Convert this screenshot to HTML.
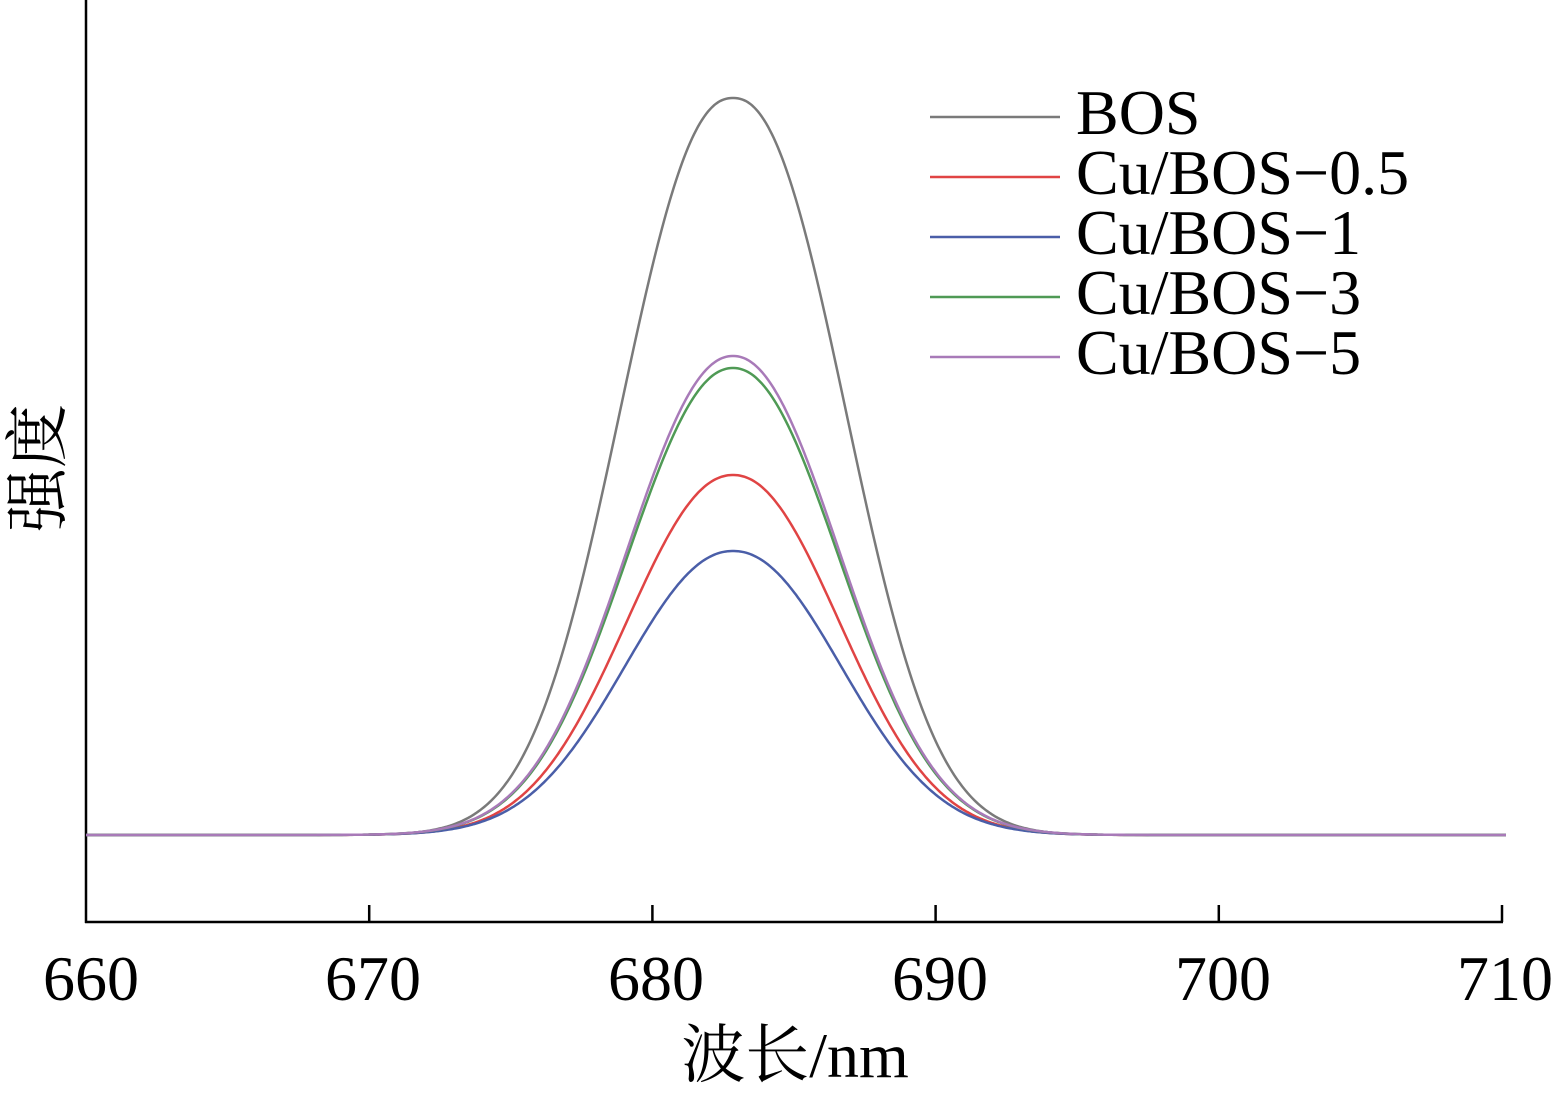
<!DOCTYPE html>
<html><head><meta charset="utf-8"><style>
html,body{margin:0;padding:0;background:#fff;}
svg{display:block;}
text{font-family:"Liberation Serif","Noto Serif CJK SC",serif;fill:#000;}
</style></head><body>
<svg id="s" width="1558" height="1099" viewBox="0 0 1558 1099" xmlns="http://www.w3.org/2000/svg">
<g stroke="#000" stroke-width="2.5" fill="none">
<line x1="86" y1="0" x2="86" y2="923"/>
<line x1="85" y1="922" x2="1503" y2="922"/>
<line x1="369.2" y1="922" x2="369.2" y2="905"/>
<line x1="652.4" y1="922" x2="652.4" y2="905"/>
<line x1="935.6" y1="922" x2="935.6" y2="905"/>
<line x1="1218.8" y1="922" x2="1218.8" y2="905"/>
<line x1="1502" y1="922" x2="1502" y2="905"/>
</g>
<g font-size="64" text-anchor="middle">
<text x="91" y="1000">660</text>
<text x="373" y="1000">670</text>
<text x="656" y="1000">680</text>
<text x="940" y="1000">690</text>
<text x="1223" y="1000">700</text>
<text x="1505" y="1000">710</text>
</g>
<text x="795" y="1077" font-size="64" text-anchor="middle">波长/nm</text>
<text transform="translate(60,468) rotate(-90)" font-size="64" text-anchor="middle">强度</text>
<g id="curves" fill="none" stroke-width="2.5"></g>
<g stroke-width="2.5">
<line x1="930" y1="117" x2="1060" y2="117" stroke="#7a7a7a"/>
<line x1="930" y1="177" x2="1060" y2="177" stroke="#e04444"/>
<line x1="930" y1="237" x2="1060" y2="237" stroke="#4a5ea8"/>
<line x1="930" y1="297" x2="1060" y2="297" stroke="#4f9a55"/>
<line x1="930" y1="357" x2="1060" y2="357" stroke="#a87ab8"/>
</g>
<g font-size="64">
<text x="1076" y="134">BOS</text>
<text x="1076" y="194">Cu/BOS−0.5</text>
<text x="1076" y="254">Cu/BOS−1</text>
<text x="1076" y="314">Cu/BOS−3</text>
<text x="1076" y="374">Cu/BOS−5</text>
</g>
</svg>
<script>
var g=document.getElementById('curves');
var base=835, c=733;
var series=[
 ['#7a7a7a',98,108,2.25],
 ['#e04444',475,104,2.1],
 ['#4a5ea8',551,106,2.1],
 ['#4f9a55',368,104,2.1],
 ['#a87ab8',356,104,2.1]
];
series.forEach(function(s){
 var h=base-s[1],d='';
 for(var x=86;x<=1507;x+=2){
  var u=Math.abs(x-c)/s[2];
  var y=base-h*Math.exp(-0.5*Math.pow(u,s[3]));
  d+=(x==86?'M':'L')+x+' '+y.toFixed(1);
 }
 var p=document.createElementNS('http://www.w3.org/2000/svg','path');
 p.setAttribute('d',d);p.setAttribute('stroke',s[0]);
 g.appendChild(p);
});
</script>
</body></html>
